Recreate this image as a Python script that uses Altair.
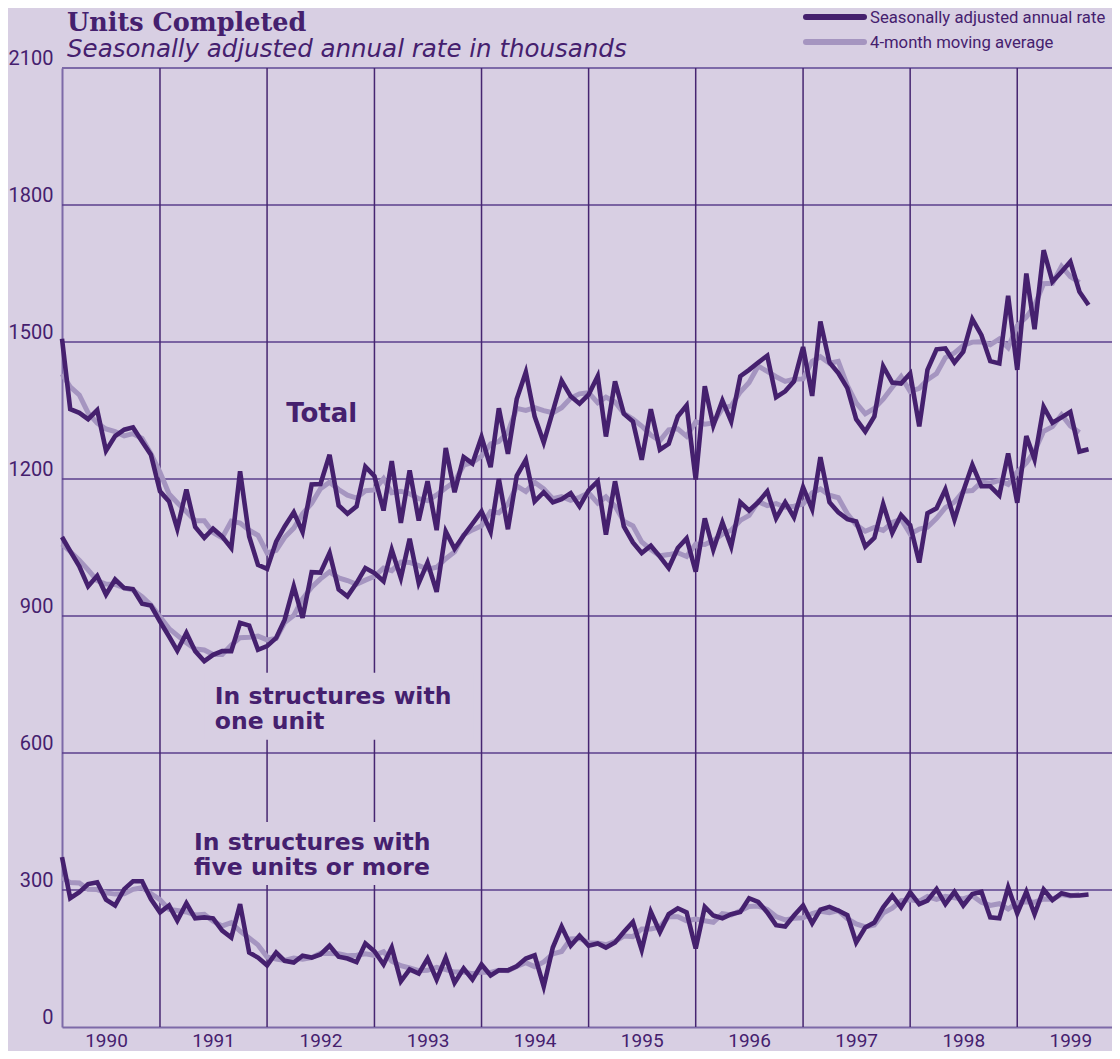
import altair as alt
import pandas as pd

FIRST_MONTH = "1990-02-01"

# Seasonally adjusted annual rate, thousands (monthly, Feb 1990 - Sep 1999)
total = [
    1507, 1353, 1345, 1331, 1351, 1262, 1294, 1308, 1313, 1282, 1253,
    1173, 1151, 1091, 1177, 1095, 1071, 1091, 1074, 1049, 1217, 1074, 1012, 1003,
    1063, 1096, 1127, 1084, 1188, 1189, 1253, 1142, 1124, 1140, 1227, 1206,
    1131, 1239, 1104, 1219, 1109, 1195, 1088, 1268, 1171, 1248, 1234, 1292,
    1226, 1355, 1255, 1375, 1434, 1337, 1280, 1348, 1415, 1381, 1365, 1385,
    1425, 1293, 1414, 1343, 1326, 1242, 1353, 1264, 1277, 1337, 1361, 1199,
    1403, 1317, 1372, 1326, 1425, 1439, 1455, 1470, 1379, 1392, 1414, 1489,
    1382, 1545, 1455, 1432, 1399, 1331, 1304, 1337, 1447, 1411, 1409, 1431,
    1315, 1439, 1484, 1486, 1455, 1479, 1550, 1515, 1458, 1453, 1601, 1439,
    1650, 1528, 1701, 1632, 1654, 1676, 1610, 1581,
]
one_unit = [
    1073, 1042, 1009, 965, 988, 947, 980, 961, 959, 927, 923,
    888, 855, 824, 863, 823, 801, 815, 823, 823, 885, 879, 826, 834,
    852, 892, 965, 896, 996, 995, 1038, 958, 943, 972, 1005, 994,
    976, 1045, 983, 1069, 972, 1017, 953, 1085, 1047, 1076, 1102, 1129,
    1084, 1200, 1090, 1207, 1242, 1151, 1171, 1149, 1156, 1169, 1140, 1175,
    1195, 1078, 1195, 1096, 1061, 1038, 1054, 1030, 1005, 1049, 1070, 997,
    1114, 1045, 1105, 1052, 1149, 1131, 1149, 1173, 1114, 1149, 1116, 1182,
    1134, 1248, 1149, 1127, 1112, 1107, 1052, 1071, 1145, 1082, 1121, 1099,
    1017, 1125, 1136, 1177, 1111, 1173, 1231, 1184, 1184, 1164, 1256, 1148,
    1294, 1243, 1358, 1323, 1335, 1347, 1260, 1265,
]
five_plus = [
    372, 282, 295, 313, 317, 279, 266, 302, 319, 319, 280,
    251, 266, 233, 271, 238, 240, 238, 211, 196, 269, 163, 152, 135,
    163, 145, 141, 156, 152, 159, 178, 154, 150, 142, 183, 166,
    137, 174, 100, 126, 117, 150, 104, 152, 97, 128, 104, 137,
    113, 124, 124, 133, 150, 157, 89, 174, 220, 178, 200, 178,
    183, 174, 185, 208, 230, 169, 252, 208, 247, 260, 251, 172,
    263, 244, 238, 247, 252, 282, 274, 251, 223, 220, 244, 266,
    227, 257, 263, 255, 245, 185, 218, 229, 262, 288, 262, 295,
    269, 277, 302, 269, 296, 266, 291, 296, 240, 238, 306, 249,
    296, 247, 301, 278, 293, 288, 288, 290,
]
series_names = ["Total", "One unit", "Five units or more"]
grid_years = [1991, 1992, 1993, 1994, 1995, 1996, 1997, 1998, 1999]
label_years = [1990, 1991, 1992, 1993, 1994, 1995, 1996, 1997, 1998, 1999]
y_ticks = [0, 300, 600, 900, 1200, 1500, 1800, 2100]
inner_grid_values = [300, 600, 900, 1200, 1500, 1800]
legend_labels = ["Seasonally adjusted annual rate", "4-month moving average"]
title_text = "Units Completed"
subtitle_text = "Seasonally adjusted annual rate in thousands"

# inline series labels (text, anchor date, anchor value, size)
inline_texts = ["Total", "In structures with", "one unit", "In structures with", "five units or more"]
inline_dates = ["1992-03-06", "1991-07-07", "1991-07-07", "1991-04-27", "1991-04-27"]
inline_values = [1325, 708, 653, 388, 332]
inline_sizes = [26, 23.5, 23.5, 23.5, 23.5]
# label background boxes (hide gridlines behind the labels)
box_starts = ["1991-06-01", "1991-03-25"]
box_ends = ["1993-12-06", "1993-10-01"]
box_lows = [629, 311]
box_highs = [776, 449]

BG = "#d8cfe3"
DARK = "#45206e"
MA = "#a595c0"
VGRID = "#462571"
HGRID = "#5b3f8c"
AXIS = "#7d6aa8"
SANS = "DejaVu Sans"
AXFONT = "Roboto"

dates = list(pd.date_range(FIRST_MONTH, periods=len(total), freq="MS").strftime("%Y-%m-%dT00:00:00"))
rows = []
for name, vals in zip(series_names, [total, one_unit, five_plus]):
    for d, v in zip(dates, vals):
        rows.append({"date": d, "value": v, "series": name})
df = pd.DataFrame(rows)

x_scale = alt.Scale(domain=[alt.DateTime(year=1990, month=2, date=1),
                            alt.DateTime(year=1999, month=11, date=20)])
y_scale = alt.Scale(domain=[0, 2100], nice=False, zero=True)

x_axis = alt.Axis(
    values=[alt.DateTime(year=y, month=7, date=1) for y in label_years],
    format="%Y", title=None, grid=False, ticks=False, tickSize=0,
    domainColor=AXIS, domainWidth=2, labelFont=AXFONT, labelFontSize=19,
    labelColor=DARK, labelPadding=19, labelAngle=0, labelFlush=False,
    labelOverlap=False, labelBaseline="alphabetic",
)
y_axis = alt.Axis(
    values=y_ticks, format="d", title=None, grid=False, ticks=False, tickSize=0,
    domainColor=AXIS, domainWidth=2, labelFont=AXFONT, labelFontSize=20,
    labelColor=DARK, labelPadding=9, labelBaseline="bottom", labelFlush=False,
    labelOverlap=False, labelAlign="right",
)

X = lambda f: alt.X(f, type="temporal", scale=x_scale, axis=x_axis)
Y = lambda f: alt.Y(f, type="quantitative", scale=y_scale, axis=y_axis)

hgrid = alt.Chart(pd.DataFrame({"value": inner_grid_values})).mark_rule(
    color=HGRID, strokeWidth=1.5).encode(y=Y("value"))
top_border = alt.Chart(pd.DataFrame({"value": [y_ticks[-1]]})).mark_rule(
    color=AXIS, strokeWidth=2).encode(y=Y("value"))
vgrid = alt.Chart(pd.DataFrame({"date": [f"{y}-01-01T00:00:00" for y in grid_years]})).mark_rule(
    color=VGRID, strokeWidth=1.5).encode(x=X("date"))

boxes = alt.Chart(pd.DataFrame({
    "date": [d + "T00:00:00" for d in box_starts],
    "end": [d + "T00:00:00" for d in box_ends],
    "value": box_lows, "high": box_highs,
})).mark_rect(fill=BG).encode(x=X("date"), x2="end", y=Y("value"), y2="high")

ma_lines = alt.Chart(df).transform_window(
    ma="mean(value)", frame=[-2, 1], groupby=["series"], sort=[alt.SortField("date")]
).transform_filter(
    f"toDate(datum.date) < toDate('{dates[-1]}')"
).mark_line(color=MA, strokeWidth=5).encode(x=X("date"), y=Y("ma"), detail="series:N")

raw_lines = alt.Chart(df).mark_line(color=DARK, strokeWidth=4.6).encode(
    x=X("date"), y=Y("value"), detail="series:N")

inline = alt.Chart(pd.DataFrame({
    "text": inline_texts,
    "date": [d + "T00:00:00" for d in inline_dates],
    "value": inline_values,
    "size": inline_sizes,
})).mark_text(font=SANS, fontWeight="bold", color=DARK,
              align="left", baseline="alphabetic").encode(
    x=X("date"), y=Y("value"), text="text:N",
    size=alt.Size("size:Q", scale=None, legend=None))

title = alt.Chart(pd.DataFrame({"t": [title_text]})).mark_text(
    font="DejaVu Serif", fontWeight="bold", fontSize=25.5, color=DARK,
    align="left", baseline="alphabetic").encode(
    x=alt.value(5), y=alt.value(-37), text="t:N")
subtitle = alt.Chart(pd.DataFrame({"t": [subtitle_text]})).mark_text(
    font=SANS, fontStyle="italic", fontSize=24.5, color=DARK,
    align="left", baseline="alphabetic").encode(
    x=alt.value(5), y=alt.value(-11), text="t:N")

leg_raw_line = alt.Chart(pd.DataFrame({"t": [legend_labels[0]]})).mark_rule(
    color=DARK, strokeWidth=6, strokeCap="round").encode(
    x=alt.value(744), x2=alt.value(802), y=alt.value(-51))
leg_ma_line = alt.Chart(pd.DataFrame({"t": [legend_labels[1]]})).mark_rule(
    color=MA, strokeWidth=6, strokeCap="round").encode(
    x=alt.value(744), x2=alt.value(802), y=alt.value(-26))
leg_raw_text = alt.Chart(pd.DataFrame({"t": [legend_labels[0]]})).mark_text(
    font=AXFONT, fontSize=16.7, color=DARK, align="left", baseline="middle").encode(
    x=alt.value(808), y=alt.value(-50), text="t:N")
leg_ma_text = alt.Chart(pd.DataFrame({"t": [legend_labels[1]]})).mark_text(
    font=AXFONT, fontSize=16.7, color=DARK, align="left", baseline="middle").encode(
    x=alt.value(808), y=alt.value(-25), text="t:N")

chart = alt.layer(
    hgrid, top_border, vgrid, boxes, ma_lines, raw_lines, inline,
    title, subtitle, leg_raw_line, leg_ma_line, leg_raw_text, leg_ma_text,
).properties(
    width=1050, height=959,
    autosize=alt.AutoSizeParams(type="none"),
    padding={"left": 54, "top": 60, "right": 0, "bottom": 24},
    background=BG,
).configure_view(strokeWidth=0)

chart.save("out.html", embed_options={"renderer": "svg", "actions": False})
